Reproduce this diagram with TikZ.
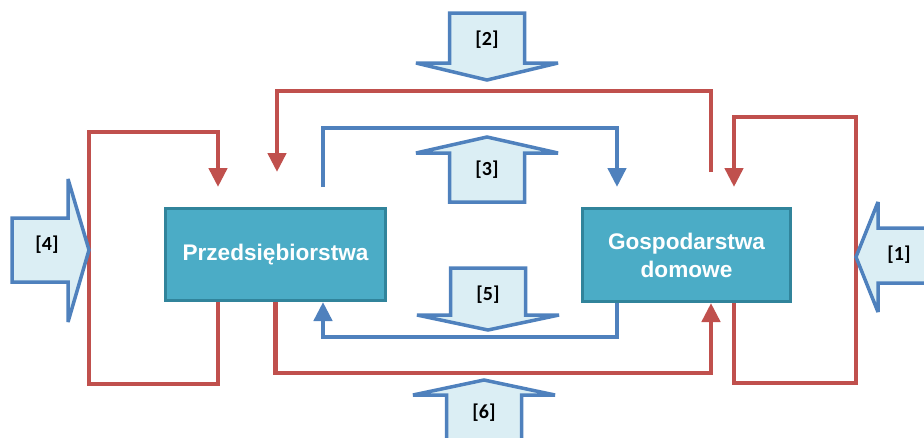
\documentclass[tikz,border=0pt]{standalone}
\usepackage{fontspec}
\setmainfont{Liberation Sans}
\newfontfamily\numfont{Carlito}
\usetikzlibrary{arrows.meta}
\definecolor{boxfill}{HTML}{4BACC6}
\definecolor{boxline}{HTML}{31849B}
\definecolor{flowred}{HTML}{C0504D}
\definecolor{flowblue}{HTML}{4F81BD}
\definecolor{bigfill}{HTML}{DBEEF4}
\tikzstyle{sector} = [rectangle, draw=boxline, fill=boxfill, line width=3pt, text=white, font=\fontsize{22.6}{28}\selectfont\bfseries, align=center]
\tikzstyle{redflow} = [draw=flowred, line width=4.5pt, -{Triangle[length=19pt,width=18pt]}]
\tikzstyle{blueflow} = [draw=flowblue, line width=4.5pt, -{Triangle[length=19pt,width=18pt]}]
\tikzstyle{bigarrow} = [draw=flowblue, fill=bigfill, line width=3.5pt, line join=miter, miter limit=3]
\tikzstyle{num} = [font=\numfont\fontsize{20}{24}\selectfont\bfseries]

\begin{document}
\begin{tikzpicture}[x=1pt,y=-1pt]
            \useasboundingbox (0,0) rectangle (924,437);
            \clip (0,0) rectangle (924,437);

            \node (P) [sector, minimum width=220pt, minimum height=92pt] at (275.5,254.5) {Przedsiębiorstwa};
            \node (G) [sector, minimum width=208pt, minimum height=93pt] at (686.5,255) {Gospodarstwa\\domowe};

            \coordinate (pIn) at (218,187);
            \coordinate (pTop) at (277,172);
            \coordinate (gOut) at (711,172);
            \coordinate (bOut) at (323,187);
            \coordinate (gIn) at (617,187);
            \coordinate (gTop) at (734,187);

            \draw [redflow] (P.south -| pIn) -- ++(0,82) -| (89,132) -| (pIn);
            \draw [redflow] (gOut) |- (277,91) -- (pTop);
            \draw [blueflow] (bOut) |- (617,128) -- (gIn);
            \draw [redflow] (G.south -| gTop) -- ++(0,80) -| (856,117) -| (gTop);
            \draw [redflow] (P.south) |- (711,373) -- (G.south -| gOut);
            \draw [blueflow] (G.south -| gIn) -- ++(0,34) -| (P.south -| bOut);

            \foreach \x/\ys/\yb/\yt/\ly/\lbl in {487/13/63/80/40/2, 487/202/153/137/170/3, 488/268/315/330/295/5, 484/450/395/380/413/6}
            {
                \draw [bigarrow] (\x-37.5,\ys) -- (\x+37.5,\ys) -- (\x+37.5,\yb) -- (\x+71,\yb) -- (\x,\yt) -- (\x-71,\yb) -- (\x-37.5,\yb) -- cycle;
                \node (n\lbl) [num] at (\x,\ly) {[\lbl]};
            }
            \draw [bigarrow] (12,218) -- (68,218) -- (68,179) -- (89,250) -- (68,322) -- (68,282) -- (12,282) -- cycle;
            \node (n4) [num] at (47,245) {[4]};
            \draw [bigarrow] (940,228) -- (878,228) -- (878,202) -- (856,257) -- (878,312) -- (878,283) -- (940,283) -- cycle;
            \node (n1) [num] at (899,255) {[1]};
        \end{tikzpicture}
\end{document}
